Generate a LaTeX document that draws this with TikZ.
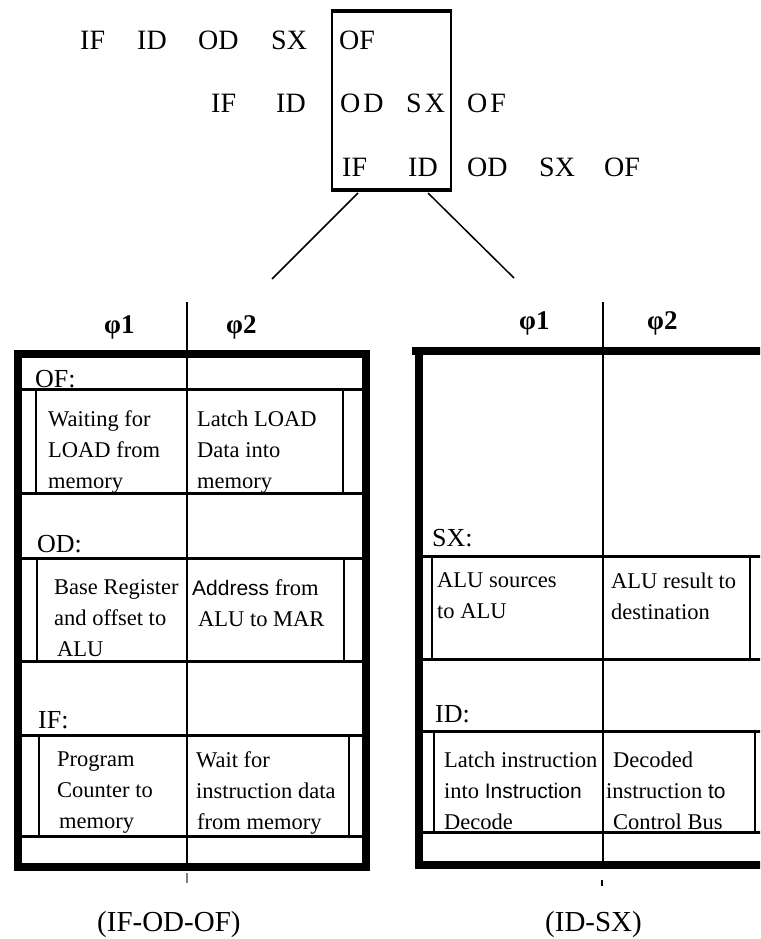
\documentclass[tikz,border=0pt]{standalone}
\usepackage{fontspec}
\setmainfont{Liberation Serif}
\newfontfamily\scanfont{Liberation Sans}
\usepackage{amsmath}
\usepackage{tikz}

\tikzset{
  stage/.style={anchor=base west, inner sep=0pt, font=\fontsize{28}{30}\selectfont},
  phase/.style={anchor=base west, inner sep=0pt, font=\fontsize{27}{30}\selectfont\bfseries},
  steplabel/.style={anchor=base west, inner sep=0pt, font=\fontsize{26}{30}\selectfont},
  celltext/.style={anchor=north west, inner sep=0pt, align=left, font=\fontsize{22.5}{31}\selectfont},
  caption/.style={anchor=base west, inner sep=0pt, font=\fontsize{29}{32}\selectfont},
  frame/.style={line width=8pt},
  rowline/.style={line width=3pt},
  blockline/.style={line width=2pt},
  divider/.style={line width=1.5pt},
}
\newcommand{\scan}[1]{{\scanfont\fontsize{21}{31}\selectfont #1}}

\begin{document}
\begin{tikzpicture}[x=1pt,y=-1pt]
        \useasboundingbox (0,0) rectangle (760,939);
        \clip (0,0) rectangle (760,939);

        % Pipeline rows
        \node[stage] (r1if) at (80,50) {IF};
        \node[stage] (r1id) at (137,50) {ID};
        \node[stage] (r1od) at (198,50) {OD};
        \node[stage] (r1sx) at (271,50) {SX};
        \node[stage] (r1of) at (339,50) {OF};

        \node[stage] (r2if) at (211,113) {IF};
        \node[stage] (r2id) at (276,113) {ID};
        \node[stage] (r2od) at (340,113) {O\kern3pt D};
        \node[stage] (r2sx) at (406,113) {S\kern3pt X};
        \node[stage] (r2of) at (467,113) {O\kern3pt F};

        \node[stage] (r3if) at (342,176) {IF};
        \node[stage] (r3id) at (408,176) {ID};
        \node[stage] (r3od) at (467,176) {OD};
        \node[stage] (r3sx) at (539,176) {SX};
        \node[stage] (r3of) at (604,176) {OF};

        % Box round the overlapping stages
        \draw[line width=2pt] (332,10) rectangle (451,191);
        \draw[line width=4pt] (332,11) -- (451,11);
        \draw[line width=4pt] (332,190) -- (451,190);

        \coordinate (boxL) at (358,193);
        \coordinate (boxR) at (428,193);
        \coordinate (fanL) at (272,279);
        \coordinate (fanR) at (514,278);
        \draw[line width=1.5pt] (boxL) -- (fanL);
        \draw[line width=1.5pt] (boxR) -- (fanR);

        % Clock phases
        \node[phase] (lphi1) at (104,333) {φ1};
        \node[phase] (lphi2) at (226,333) {φ2};
        \node[phase] (rphi1) at (519,329) {φ1};
        \node[phase] (rphi2) at (647,329) {φ2};

        % Left table (IF-OD-OF)
        \node[steplabel] (lof) at (35,387) {OF:};
        \node[celltext] (lof1) at (48,410.6) {Waiting for\\LOAD from\\memory};
        \node[celltext] (lof2) at (197,410.6) {Latch LOAD\\Data\ into\\memory};
        \node[steplabel] (lod) at (37,552) {OD:};
        \node[celltext] (lod1) at (54,579.6) {Base Register\\and offset to\\\hspace*{3pt}ALU};
        \node[celltext] (lod2) at (192,579.6) {\scan{Address} from\\\hspace*{6pt}ALU to MAR};
        \node[steplabel] (lif) at (38,728) {IF:};
        \node[celltext] (lif1) at (57,751.6) {Program\\Counter to\\\hspace*{2pt}memory};
        \node[celltext] (lif2) at (196,751.6) {Wait for\\instruction data\\\hspace*{1pt}from memory};

        \draw[rowline] (18,389) -- (366,389);
        \draw[rowline] (18,493) -- (366,493);
        \draw[rowline] (18,558) -- (366,558);
        \draw[rowline] (18,661) -- (366,661);
        \draw[rowline] (18,735) -- (366,735);
        \draw[rowline] (18,836) -- (366,836);

        \draw[blockline] (36,389) -- (36,493);
        \draw[blockline] (343,389) -- (343,493);
        \draw[blockline] (37,558) -- (37,661);
        \draw[blockline] (344,558) -- (344,661);
        \draw[blockline] (39,735) -- (39,838);
        \draw[blockline] (349,735) -- (349,836);

        \draw[divider] (187,302) -- (187,867);
        \draw[divider, gray] (187,873) -- (187,883);
        \draw[frame] (18,354) rectangle (366,867);

        % Right table (ID-SX)
        \node[steplabel] (rsx) at (432,546) {SX:};
        \node[celltext] (rsx1) at (437,572.6) {ALU sources\\to ALU};
        \node[celltext] (rsx2) at (611,572.6) {ALU result to\\destination};
        \node[steplabel] (rid) at (435,722) {ID:};
        \node[celltext] (rid1) at (444,751.6) {Latch instruction\\into \scan{Instruction}\\Decode};
        \node[celltext] (rid2) at (606,751.6) {\hspace*{7pt}Decoded\\instruction \scan{to}\\\hspace*{7pt}Control Bus};

        \draw[rowline] (419,556) -- (770,556);
        \draw[rowline] (419,659) -- (770,659);
        \draw[rowline] (419,731) -- (770,731);
        \draw[rowline] (419,832) -- (770,832);

        \draw[blockline] (432,556) -- (432,659);
        \draw[blockline] (750,556) -- (750,659);
        \draw[blockline] (434,731) -- (434,832);
        \draw[blockline] (755,731) -- (755,832);

        \draw[divider] (603,302) -- (603,865);
        \draw[line width=2pt] (602,880) -- (602,886);
        \draw[frame] (412,351) -- (770,351);
        \draw[frame] (419,351) |- (770,865);

        % Captions
        \node[caption] (lcap) at (97,931) {(IF-OD-OF)};
        \node[caption] (rcap) at (545,931) {(ID-SX)};
    \end{tikzpicture}
\end{document}
